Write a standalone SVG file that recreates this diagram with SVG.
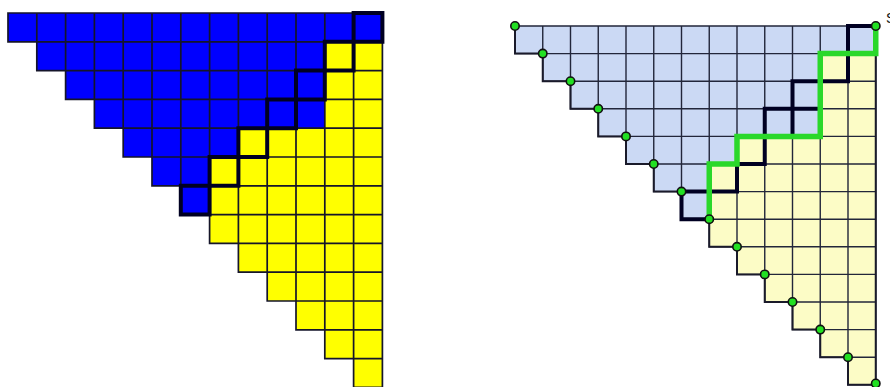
<svg xmlns="http://www.w3.org/2000/svg" width="890" height="387" viewBox="0 0 890 387">
<style>
.ns{vector-effect:non-scaling-stroke;fill:none;stroke-linejoin:miter;stroke-linecap:square}
.gridL{stroke:#15152a;stroke-width:1.7}
.gridR{stroke:#22263a;stroke-width:1.4}
.edgeR{stroke:#1a1a2a;stroke-width:2}
.bold{stroke:#000022;stroke-width:4}
.green{stroke:#2ad82a;stroke-width:5.5;stroke-linecap:butt}
.dot{fill:#22e022;stroke:#111;stroke-width:1.6}
</style>
<g id="left-panel" transform="translate(8,13) scale(28.8)">
  <path id="left-blue" fill="#0000ff" d="M0,0 H13 V1 H11 V4 H8 V5 H7 V7 H6 V6 H5 V5 H4 V4 H3 V3 H2 V2 H1 V1 H0 Z"/>
  <path id="left-yellow" fill="#ffff00" d="M13,1 V13 H12 V12 H11 V11 H10 V10 H9 V9 H8 V8 H7 V5 H8 V4 H11 V1 Z"/>
  <path class="ns gridL" d="M0,0 H13 M0,1 H13 M1,2 H13 M2,3 H13 M3,4 H13 M4,5 H13 M5,6 H13 M6,7 H13 M7,8 H13 M8,9 H13 M9,10 H13 M10,11 H13 M11,12 H13 M12,13 H13 M0,0 V1 M1,0 V2 M2,0 V3 M3,0 V4 M4,0 V5 M5,0 V6 M6,0 V7 M7,0 V8 M8,0 V9 M9,0 V10 M10,0 V11 M11,0 V12 M12,0 V13 M13,0 V13"/>
  <g id="left-boxes">
    <path class="ns bold" d="M12,0 h1 v1 h-1 Z M11,1 h1 v1 h-1 Z M10,2 h1 v1 h-1 Z M9,3 h1 v1 h-1 Z M8,4 h1 v1 h-1 Z M7,5 h1 v1 h-1 Z M6,6 h1 v1 h-1 Z"/>
  </g>
</g>
<g id="right-panel" transform="translate(515,26) scale(27.75,27.6)">
  <path id="right-blue" fill="#cbd9f4" d="M0,0 H13 V1 H11 V4 H8 V5 H7 V7 H6 V6 H5 V5 H4 V4 H3 V3 H2 V2 H1 V1 H0 Z"/>
  <path id="right-yellow" fill="#fcfcc6" d="M13,1 V13 H12 V12 H11 V11 H10 V10 H9 V9 H8 V8 H7 V5 H8 V4 H11 V1 Z"/>
  <path class="ns gridR" d="M0,0 H13 M0,1 H13 M1,2 H13 M2,3 H13 M3,4 H13 M4,5 H13 M5,6 H13 M6,7 H13 M7,8 H13 M8,9 H13 M9,10 H13 M10,11 H13 M11,12 H13 M12,13 H13 M0,0 V1 M1,0 V2 M2,0 V3 M3,0 V4 M4,0 V5 M5,0 V6 M6,0 V7 M7,0 V8 M8,0 V9 M9,0 V10 M10,0 V11 M11,0 V12 M12,0 V13 M13,0 V13"/>
  <path class="ns edgeR" d="M0,0 V1 H1 V2 H2 V3 H3 V4 H4 V5 H5 V6 H6 V7 H7 V8 H8 V9 H9 V10 H10 V11 H11 V12 H12 V13 H13 V0"/>
  <g id="right-boxes">
    <path class="ns bold" d="M12,0 h1 v1 h-1 Z M11,1 h1 v1 h-1 Z M10,2 h1 v1 h-1 Z M9,3 h1 v1 h-1 Z M8,4 h1 v1 h-1 Z M7,5 h1 v1 h-1 Z M6,6 h1 v1 h-1 Z"/>
  </g>
  <g id="connectors">
    <path id="green-path" class="ns green" d="M13,0 V1 H11 V4 H8 V5 H7 V7"/>
  </g>
</g>
<g id="dots">
  <circle class="dot" cx="515" cy="26" r="4.2"/>
  <circle class="dot" cx="542.75" cy="53.6" r="4.2"/>
  <circle class="dot" cx="570.5" cy="81.2" r="4.2"/>
  <circle class="dot" cx="598.25" cy="108.8" r="4.2"/>
  <circle class="dot" cx="626" cy="136.4" r="4.2"/>
  <circle class="dot" cx="653.75" cy="164" r="4.2"/>
  <circle class="dot" cx="681.5" cy="191.6" r="4.2"/>
  <circle class="dot" cx="709.25" cy="219.2" r="4.2"/>
  <circle class="dot" cx="737" cy="246.8" r="4.2"/>
  <circle class="dot" cx="764.75" cy="274.4" r="4.2"/>
  <circle class="dot" cx="792.5" cy="302" r="4.2"/>
  <circle class="dot" cx="820.25" cy="329.6" r="4.2"/>
  <circle class="dot" cx="848" cy="357.2" r="4.2"/>
  <circle class="dot" cx="875.75" cy="383.5" r="4.2"/>
  <circle class="dot" cx="875.75" cy="26" r="4.2"/>
</g>
<text x="886" y="23" font-family="Liberation Sans, Arial, sans-serif" font-size="14" fill="#111">S</text>
</svg>
